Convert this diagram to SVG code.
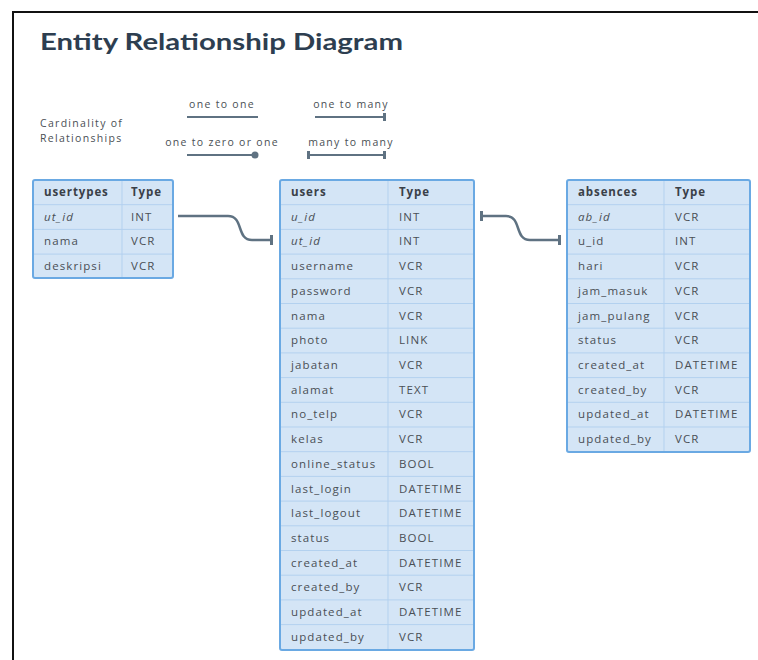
<svg xmlns="http://www.w3.org/2000/svg" width="758" height="660" viewBox="0 0 758 660">
<defs>
<style>
.t{font-family:"Open Sans","Liberation Sans",sans-serif;font-size:11.5px;letter-spacing:1.1px;fill:#4a4f55}
.h{font-weight:bold;fill:#3a4048;letter-spacing:0.9px}
.i{font-style:italic}
.tbl{fill:#d4e5f6;stroke:#6aa9e3;stroke-width:2}
.g{stroke:#b3d1ef;stroke-width:1;fill:none}
.c{fill:none;stroke:#5f7282;stroke-width:2.5}
.lg{font-family:"Open Sans","Liberation Sans",sans-serif;font-size:10.5px;letter-spacing:1.3px;fill:#4a4f55}
</style>
<marker id="bar" markerWidth="4" markerHeight="10" refX="2" refY="5" orient="auto" markerUnits="userSpaceOnUse"><rect x="0" y="0" width="3" height="10" fill="#5f7282"/></marker>
</defs>
<rect width="758" height="660" fill="#fff"/>
<path d="M13,660 V12 H758" fill="none" stroke="#111" stroke-width="2"/>
<text x="40" y="50" font-family="Lato,'Open Sans',sans-serif" font-weight="bold" font-size="22" fill="#2d3e50" textLength="363" lengthAdjust="spacingAndGlyphs">Entity Relationship Diagram</text>

<g id="legend">
<text class="lg" x="40" y="127">Cardinality of</text>
<text class="lg" x="40" y="142">Relationships</text>
<text class="lg" x="222" y="108" text-anchor="middle">one to one</text>
<text class="lg" x="351" y="108" text-anchor="middle">one to many</text>
<text class="lg" x="222" y="146" text-anchor="middle">one to zero or one</text>
<text class="lg" x="351" y="146" text-anchor="middle">many to many</text>
<path d="M187,117 H258" stroke="#5f7282" stroke-width="2"/>
<path d="M315,117 H385" stroke="#5f7282" stroke-width="2"/>
<rect x="383" y="113" width="3" height="8" fill="#5f7282"/>
<path d="M187,155 H255" stroke="#5f7282" stroke-width="2"/>
<circle cx="255" cy="155" r="3.5" fill="#5f7282"/>
<path d="M308,155 H385" stroke="#5f7282" stroke-width="2"/>
<rect x="307" y="151" width="3" height="8" fill="#5f7282"/>
<rect x="383" y="151" width="3" height="8" fill="#5f7282"/>
</g>

<g id="connectors">
<path class="c" d="M178,216 H228 C244,216 236,240 252,240 H272" marker-end="url(#bar)"/>
<path class="c" d="M482,216 H506 C522,216 514,240 530,240 H560" marker-start="url(#bar)" marker-end="url(#bar)"/>
</g>

<g id="usertypes">
<rect class="tbl" x="33" y="180" width="140" height="98" rx="2"/>
<path class="g" d="M122,181 V277 M34,204.7 H172 M34,229.4 H172 M34,254.1 H172"/>
<text class="t h" x="44" y="196">usertypes</text><text class="t h" x="131" y="196">Type</text>
<text class="t i" x="44" y="221">ut_id</text><text class="t" x="131" y="221">INT</text>
<text class="t" x="44" y="245">nama</text><text class="t" x="131" y="245">VCR</text>
<text class="t" x="44" y="270">deskripsi</text><text class="t" x="131" y="270">VCR</text>
</g>

<g id="users">
<rect class="tbl" x="280" y="180" width="194" height="470" rx="2"/>
<path class="g" d="M388,181 V649 M281,204.7 H473 M281,229.4 H473 M281,254.1 H473 M281,278.8 H473 M281,303.5 H473 M281,328.2 H473 M281,352.9 H473 M281,377.6 H473 M281,402.3 H473 M281,427 H473 M281,451.7 H473 M281,476.4 H473 M281,501.1 H473 M281,525.8 H473 M281,550.5 H473 M281,575.2 H473 M281,599.9 H473 M281,624.6 H473"/>
<text class="t h" x="291" y="196">users</text><text class="t h" x="399" y="196">Type</text>
<text class="t i" x="291" y="221">u_id</text><text class="t" x="399" y="221">INT</text>
<text class="t i" x="291" y="245">ut_id</text><text class="t" x="399" y="245">INT</text>
<text class="t" x="291" y="270">username</text><text class="t" x="399" y="270">VCR</text>
<text class="t" x="291" y="295">password</text><text class="t" x="399" y="295">VCR</text>
<text class="t" x="291" y="320">nama</text><text class="t" x="399" y="320">VCR</text>
<text class="t" x="291" y="344">photo</text><text class="t" x="399" y="344">LINK</text>
<text class="t" x="291" y="369">jabatan</text><text class="t" x="399" y="369">VCR</text>
<text class="t" x="291" y="394">alamat</text><text class="t" x="399" y="394">TEXT</text>
<text class="t" x="291" y="418">no_telp</text><text class="t" x="399" y="418">VCR</text>
<text class="t" x="291" y="443">kelas</text><text class="t" x="399" y="443">VCR</text>
<text class="t" x="291" y="468">online_status</text><text class="t" x="399" y="468">BOOL</text>
<text class="t" x="291" y="493">last_login</text><text class="t" x="399" y="493">DATETIME</text>
<text class="t" x="291" y="517">last_logout</text><text class="t" x="399" y="517">DATETIME</text>
<text class="t" x="291" y="542">status</text><text class="t" x="399" y="542">BOOL</text>
<text class="t" x="291" y="567">created_at</text><text class="t" x="399" y="567">DATETIME</text>
<text class="t" x="291" y="591">created_by</text><text class="t" x="399" y="591">VCR</text>
<text class="t" x="291" y="616">updated_at</text><text class="t" x="399" y="616">DATETIME</text>
<text class="t" x="291" y="641">updated_by</text><text class="t" x="399" y="641">VCR</text>
</g>

<g id="absences">
<rect class="tbl" x="567" y="180" width="183" height="272" rx="2"/>
<path class="g" d="M664,181 V451 M568,204.7 H749 M568,229.4 H749 M568,254.1 H749 M568,278.8 H749 M568,303.5 H749 M568,328.2 H749 M568,352.9 H749 M568,377.6 H749 M568,402.3 H749 M568,427 H749"/>
<text class="t h" x="578" y="196">absences</text><text class="t h" x="675" y="196">Type</text>
<text class="t i" x="578" y="221">ab_id</text><text class="t" x="675" y="221">VCR</text>
<text class="t" x="578" y="245">u_id</text><text class="t" x="675" y="245">INT</text>
<text class="t" x="578" y="270">hari</text><text class="t" x="675" y="270">VCR</text>
<text class="t" x="578" y="295">jam_masuk</text><text class="t" x="675" y="295">VCR</text>
<text class="t" x="578" y="320">jam_pulang</text><text class="t" x="675" y="320">VCR</text>
<text class="t" x="578" y="344">status</text><text class="t" x="675" y="344">VCR</text>
<text class="t" x="578" y="369">created_at</text><text class="t" x="675" y="369">DATETIME</text>
<text class="t" x="578" y="394">created_by</text><text class="t" x="675" y="394">VCR</text>
<text class="t" x="578" y="418">updated_at</text><text class="t" x="675" y="418">DATETIME</text>
<text class="t" x="578" y="443">updated_by</text><text class="t" x="675" y="443">VCR</text>
</g>
</svg>
